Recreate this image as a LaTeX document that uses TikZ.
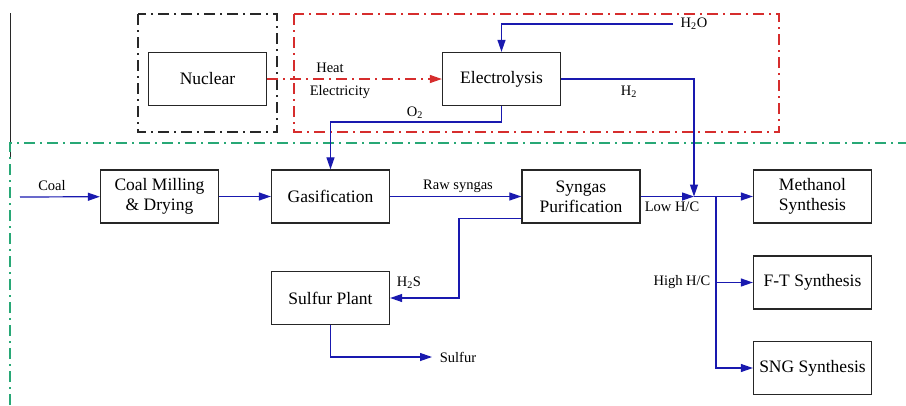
\documentclass[tikz,border=0pt]{standalone}
\usepackage{fontspec}
\setmainfont{Liberation Serif}
\usetikzlibrary{arrows.meta}
\definecolor{flowblue}{RGB}{25,25,175}
\definecolor{zonered}{RGB}{214,45,45}
\definecolor{zonegreen}{RGB}{40,168,118}
\definecolor{zonegray}{RGB}{40,40,40}
\tikzset{
  box/.style={draw=black!85, line width=1.3pt, minimum width=118pt, minimum height=53pt,
    align=center, inner sep=2pt, font=\fontsize{17.5}{20}\selectfont},
  lbl/.style={inner sep=0pt, font=\fontsize{14.5}{16}\selectfont},
  flow/.style={draw=flowblue, line width=1.2pt, -{Triangle[length=12pt,width=8pt]}},
  flowline/.style={draw=flowblue, line width=1.2pt},
  dashdot/.style={line width=1.3pt, dash pattern=on 11pt off 5pt on 2pt off 5pt},
}
\begin{document}
\begin{tikzpicture}[x=1pt,y=-1pt]
\useasboundingbox (0,0) rectangle (906,405);
% zones
\draw[dashdot, zonegray] (138,14) rectangle (277,132);
\draw[dashdot, zonered] (294,14) rectangle (779,132);
\draw[zonegray, line width=1pt] (10,13) -- (10,158);
\draw[dashdot, zonegreen] (10,405) -- (10,143) -- (906,143);
% boxes
\node[box] (nuc) at (207.5,79) {Nuclear};
\node[box] (el) at (501.5,79) {Electrolysis};
\node[box] (cm) at (159.5,196.5) {Coal Milling\\\& Drying};
\node[box] (gas) at (330.5,196.5) {Gasification};
\node[box] (sp) at (581,196.5) {Syngas\\Purification};
\node[box] (meth) at (812.5,196.5) {Methanol\\Synthesis};
\node[box] (ft) at (812.5,282.5) {F-T Synthesis};
\node[box] (sng) at (812.5,368) {SNG Synthesis};
\node[box] (sul) at (330.5,298) {Sulfur Plant};
% coordinates
\coordinate (coalin) at (20,197);
\coordinate (h2oin) at (673,24);
\coordinate (j) at (694,196.5);
\coordinate (b) at (716,196.5);
\coordinate (sulfout) at (432,357);
% connectors
\draw[dashdot, zonered, line width=1.3pt, -{Triangle[length=12pt,width=8pt]}] (nuc) -- (el);
\draw[flow] (coalin) -- (cm);
\draw[flow] (cm) -- (gas);
\draw[flow] (gas) -- (sp);
\draw[flow] (h2oin) -| (el.north);
\draw[flow] (el.south) |- (330.5,122) -| (gas.north);
\draw[flow] (el.east) -| (j);
\draw[flow] (sp.east) -- (j);
\draw[flow] (j) -- (meth.west);
\draw[flow] (b) |- (sng.west);
\draw[flow] (b |- ft.west) -- (ft.west);
\draw[flow] ([yshift=5pt]sp.south west) -| (459,258) |- (sul.east);
\draw[flow] (sul.south) |- (sulfout);
% labels
\node[lbl] (lcoal) at (52,186) {Coal};
\node[lbl] (lheat) at (330,68) {Heat};
\node[lbl] (lelec) at (340,92) {Electricity};
\node[lbl] (lo2) at (415,113) {O\textsubscript{2}};
\node[lbl] (lh2o) at (694,24) {H\textsubscript{2}O};
\node[lbl] (lh2) at (629,92) {H\textsubscript{2}};
\node[lbl] (lraw) at (458,186) {Raw syngas};
\node[lbl] (llow) at (672,207) {Low H/C};
\node[lbl] (lhigh) at (682,282) {High H/C};
\node[lbl] (lh2s) at (409,283) {H\textsubscript{2}S};
\node[lbl] (lsulf) at (458,357) {Sulfur};
\end{tikzpicture}
\end{document}
